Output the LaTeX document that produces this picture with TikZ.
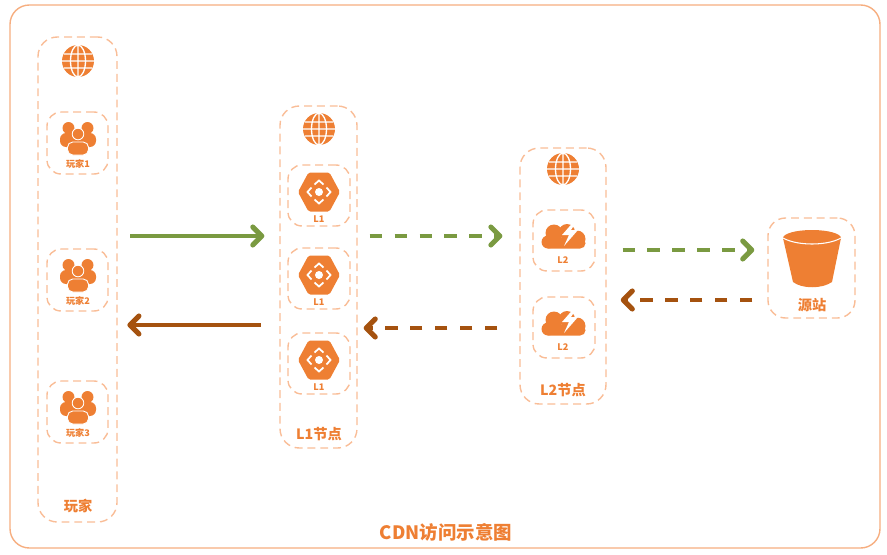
\documentclass[tikz,border=0pt]{standalone}
\usepackage{fontspec}
\usepackage{xcolor}
\usetikzlibrary{arrows.meta, fit}
\setmainfont{Noto Sans CJK SC}
\definecolor{iconorange}{HTML}{EE7F33}
\definecolor{frameorange}{HTML}{F6AE80}
\definecolor{dashorange}{HTML}{F9BD97}
\definecolor{goarrow}{HTML}{7A9A41}
\definecolor{backarrow}{HTML}{A5520F}
\tikzset{
  outerbox/.style={draw=dashorange, line width=0.8pt, rounded corners=11pt, dash pattern=on 4.5pt off 2.8pt, inner sep=0pt},
  innerbox/.style={draw=dashorange, line width=0.8pt, rounded corners=8pt, dash pattern=on 4.5pt off 2.8pt, inner sep=0pt},
  bigtext/.style={text=iconorange, font=\fontsize{8.1}{9}\selectfont\bfseries, inner sep=0pt},
  smalltext/.style={text=iconorange, font=\fontsize{5.2}{6}\selectfont\bfseries, inner sep=0pt},
  goline/.style={draw=goarrow, line width=2.7pt, ->},
  backline/.style={draw=backarrow, line width=2.7pt, ->},
  gapline/.style={dash pattern=on 7.2pt off 7pt},
  globeicon/.pic={
    \fill[iconorange] (0,0) circle (16);
    \draw[white, line width=0.75pt] (0,0) ellipse (7.5 and 16) (0,-16)--(0,16)
      (-14,-7)--(14,-7) (-16,0)--(16,0) (-14,7)--(14,7);
  },
  usersicon/.pic={
    \fill[iconorange] (-9.5,-8) circle (6) (9.5,-8) circle (6);
    \fill[iconorange, rounded corners=3.5pt] (-18,11)--(-18,-3)--(1,-3)--(1,11)--cycle;
    \fill[iconorange, rounded corners=3.5pt] (-1,11)--(-1,-3)--(18,-3)--(18,11)--cycle;
    \filldraw[iconorange, draw=white, line width=0.5pt] (0,-2) circle (5.8);
    \filldraw[iconorange, draw=white, line width=0.5pt, rounded corners=3pt] (-10.5,19)--(-10.5,6)--(10.5,6)--(10.5,19)--cycle;
  },
  hexicon/.pic={
    \fill[iconorange, rounded corners=1pt] (-21,0)--(-10.5,-19.5)--(10.5,-19.5)--(21,0)--(10.5,19.5)--(-10.5,19.5)--cycle;
    \fill[white] (0,0) circle (4);
    \foreach \a in {0,90,180,270}
      \draw[white, line width=1pt, rotate=\a] (7.5,-4.5)--(11.5,0)--(7.5,4.5);
  },
  cloudicon/.pic={
    \fill[iconorange] (-10,-3) circle (8.5) (-16,6) circle (6.5) (3,-4) circle (8) (13,3) circle (8.5);
    \fill[iconorange, rounded corners=3pt] (-21,2) rectangle (21.5,12.5);
    \fill[white] (12,-17)--(-2,-1)--(5,-1)--(0,10)--(14,-6)--(7,-6)--(14,-17)--cycle;
  },
  bucketicon/.pic={
    \fill[iconorange] (-29,0) -- (-19,44) .. controls (-10,51) and (10,51) .. (20,44) -- (29,0) -- cycle;
    \fill[iconorange] (0,0) ellipse (29 and 8);
    \draw[white, line width=0.6pt] (-29,0) .. controls (-15,8) and (15,8) .. (29,0);
  }
}
\begin{document}
\begin{tikzpicture}[x=0.02cm, y=-0.02cm, >={Straight Barb[length=1.8mm, width=3.6mm, round, line width=2.9pt]}]
    \useasboundingbox (0,0) rectangle (887,555);
    \node[draw=frameorange, line width=0.8pt, rounded corners=11pt, inner sep=0pt, fit={(10,5) (880,548)}] (frame) {};
    \node[text=iconorange, font=\fontsize{10.5}{12}\selectfont\bfseries, inner sep=0pt] (title) at (446,532) {CDN访问示意图};

    % players
    \node[outerbox, fit={(38,37) (117,522)}] (playerbox) {};
    \pic at (78,61) {globeicon};
    \foreach \n/\y in {1/112, 2/249, 3/381} {
        \node[innerbox, fit={(47,\y) (108,\y+62)}] (player\n) {};
        \pic at (78,\y+24) {usersicon};
        \node[smalltext] (playertext\n) at (78,\y+52) {玩家\n};
    }
    \node[bigtext] (playerlabel) at (78,506) {玩家};

    % L1
    \node[outerbox, fit={(280,106) (357,448)}] (lonebox) {};
    \pic at (319,129) {globeicon};
    \foreach \n/\y in {1/165, 2/248, 3/333} {
        \node[innerbox, fit={(288,\y) (350,\y+61)}] (lone\n) {};
        \pic at (319,\y+27) {hexicon};
        \node[smalltext] (lonetext\n) at (319,\y+54) {L1};
    }
    \node[bigtext] (lonelabel) at (319,434) {L1节点};

    % L2
    \node[outerbox, fit={(520,148) (606,404)}] (ltwobox) {};
    \pic at (563,169) {globeicon};
    \foreach \n/\y in {1/210, 2/297} {
        \node[innerbox, fit={(533,\y) (595,\y+61)}] (ltwo\n) {};
        \pic at (564,\y+26) {cloudicon};
        \node[smalltext] (ltwotext\n) at (563,\y+50) {L2};
    }
    \node[bigtext] (ltwolabel) at (563,390) {L2节点};

    % origin
    \node[innerbox, rounded corners=10pt, fit={(768,218) (855,318)}] (origin) {};
    \pic at (812,238) {bucketicon};
    \node[bigtext] (originlabel) at (812,305) {源站};

    % arrows
    \coordinate (goa) at (0,236);  \coordinate (gob) at (0,250);
    \coordinate (backa) at (0,325);  \coordinate (backb) at (0,328);  \coordinate (backc) at (0,300);
    \draw[goline, shorten <=7pt, shorten >=8.5pt] (playerbox.east |- goa) -- (lonebox.west |- goa);
    \draw[backline, shorten <=10.5pt, shorten >=5.5pt] (lonebox.west |- backa) -- (playerbox.east |- backa);
    \draw[goline, gapline, shorten <=6.8pt, shorten >=9.6pt] (lonebox.east |- goa) -- (ltwobox.west |- goa);
    \draw[backline, gapline, shorten <=12.5pt, shorten >=3.4pt] (ltwobox.west |- backb) -- (lonebox.east |- backb);
    \draw[goline, gapline, shorten <=9pt, shorten >=7.4pt] (ltwobox.east |- gob) -- (origin.west |- gob);
    \draw[backline, gapline, shorten <=8.5pt, shorten >=8pt] (origin.west |- backc) -- (ltwobox.east |- backc);
\end{tikzpicture}
\end{document}
